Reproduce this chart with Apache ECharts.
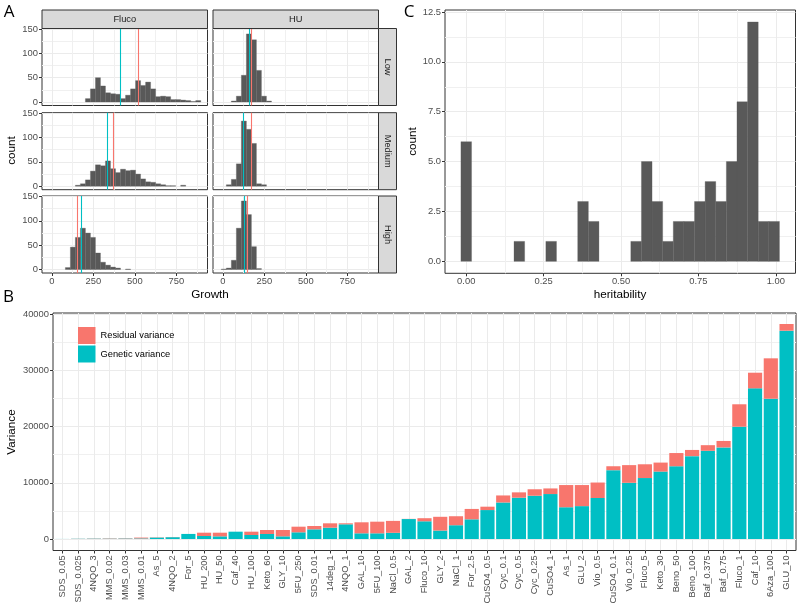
<!DOCTYPE html>
<html><head><meta charset="utf-8">
<script src="https://cdn.jsdelivr.net/npm/echarts@6/dist/echarts.min.js"></script>
<style>html,body{margin:0;padding:0;background:#fff}#c{width:800px;height:607px}</style>
</head><body><div id="c"></div>
<script>
// ---------- Panel A: Growth histograms (30 shared bins) ----------
const growthBinStart = -9.9;
const growthBinWidth = 30.24;
const flucoLow    = [0,0,0,0,0,0,0,7,27,50,33,19,17,16,7,14,27,44,34,41,27,11,12,11,5,5,4,3,1,3];
const flucoMedium = [0,0,0,0,0,2,5,13,31,44,42,52,36,28,35,32,33,25,15,9,8,5,3,1,1,0,2,0,0,0];
const flucoHigh   = [0,0,0,4,46,66,85,75,66,34,15,9,5,3,0,1,0,0,0,0,0,0,0,0,0,0,0,0,0,0];
const huLow       = [0,0,2,12,55,140,128,65,12,2,0,0,0,0,0,0,0,0,0,0,0,0,0,0,0,0,0,0,0,0];
const huMedium    = [0,3,14,46,134,117,88,5,3,0,0,0,0,0,0,0,0,0,0,0,0,0,0,0,0,0,0,0,0,0];
const huHigh      = [1,3,19,85,141,113,47,2,0,0,0,0,0,0,0,0,0,0,0,0,0,0,0,0,0,0,0,0,0,0];
// vertical reference lines [Low, Medium, High]
const flucoRedLine  = [518, 371, 151];
const flucoTealLine = [409, 333, 179];
const huRedLine     = [168, 171, 145];
const huTealLine    = [160, 123, 129];
const growthTicks = [0, 250, 500, 750];
const growthMinor = [125, 375, 625, 875];
const countTicksA = [0, 50, 100, 150];
const countMinorA = [25, 75, 125];
const conditions = ['Low', 'Medium', 'High'];
const drugs = ['Fluco', 'HU'];

// ---------- Panel B: variance components ----------
const bCategories = ['SDS_0.05','SDS_0.025','4NQO_3','MMS_0.02','MMS_0.03','MMS_0.01','As_5','4NQO_2','For_5','HU_200','HU_50','Caf_40','HU_100','Keto_60','GLY_10','5FU_250','SDS_0.01','14deg_1','4NQO_1','GAL_10','5FU_100','NaCl_0.5','GAL_2','Fluco_10','GLY_2','NaCl_1','For_2.5','CuSO4_0.5','Cyc_0.1','Cyc_0.5','Cyc_0.25','CuSO4_1','As_1','GLU_2','Vio_0.5','CuSO4_0.1','Vio_0.25','Fluco_5','Keto_30','Beno_50','Beno_100','Baf_0.375','Baf_0.75','Fluco_1','Caf_10','6Aza_100','GLU_10'];
const geneticVariance = [10,40,60,60,80,100,250,320,900,530,470,1300,710,890,470,1190,1720,2010,2610,1010,1010,1100,3550,3150,1500,2450,3500,5150,6500,7350,7700,8000,5650,5850,7300,12250,10000,10850,12000,12950,14750,15700,16300,19990,26820,24970,37080];
const residualVariance = [5,20,40,60,60,150,50,30,0,590,650,0,590,710,1130,1000,590,780,180,1960,2070,2120,30,550,2450,1600,1850,600,1250,950,1150,1000,3950,3750,2750,700,3150,2450,1600,2350,1100,1000,1150,3990,2780,7190,1190];
const varianceTicks = [0, 10000, 20000, 30000, 40000];
const varianceMinor = [5000, 15000, 25000, 35000];

// ---------- Panel C: heritability histogram ----------
const heritBinWidth = 0.0343;
const heritCounts = [6,0,0,0,0,1,0,0,1,0,0,3,2,0,0,0,1,5,3,1,2,2,3,4,3,5,8,12,2,2];
const heritTicks = [0, 0.25, 0.5, 0.75, 1];
const heritMinor = [0.125, 0.375, 0.625, 0.875];
const heritCountTicks = [0, 2.5, 5, 7.5, 10, 12.5];
const heritCountMinor = [1.25, 3.75, 6.25, 8.75, 11.25];

// ---------- builders ----------
const FONT = "'Liberation Sans', Arial, Helvetica, sans-serif";
const RED = '#F8766D', TEAL = '#00BFC4', BARGREY = '#595959';
const grids = [], xAxes = [], yAxes = [], series = [], graphics = [];

function addGrid(rect) {
  grids.push(Object.assign({show: true, backgroundColor: '#FFFFFF', borderColor: '#333333', borderWidth: 1,
    containLabel: false, outerBoundsMode: 'none'}, rect));
  return grids.length - 1;
}
function addAxes(arr, gi, pos, min, max, major, minor, showLab, fmt, labelExtra, tickLen) {
  arr.push({gridIndex: gi, type: 'value', position: pos, min: min, max: max,
    axisLine: {show: false, onZero: false}, axisTick: {show: false, customValues: minor},
    axisLabel: {show: false, customValues: minor},
    splitLine: {show: minor.length > 0, lineStyle: {color: '#F0F0F0', width: 1}}});
  arr.push({gridIndex: gi, type: 'value', position: pos, min: min, max: max,
    axisLine: {show: false, onZero: false},
    axisTick: {show: showLab, customValues: major, length: tickLen || 3, lineStyle: {color: '#333333', width: 1}},
    axisLabel: Object.assign({show: showLab, customValues: major, formatter: fmt, color: '#4D4D4D',
      fontSize: 9.4, fontFamily: FONT, margin: 4}, labelExtra || {}),
    splitLine: {show: true, lineStyle: {color: '#EBEBEB', width: 1}}});
  return arr.length - 1;
}
function binData(counts, start, w) {
  return counts.map((c, k) => [start + k * w, start + (k + 1) * w, c]).filter(d => d[2] > 0);
}
function rectRender(color) {
  return function (params, api) {
    const p0 = api.coord([api.value(0), api.value(2)]);
    const p1 = api.coord([api.value(1), 0]);
    return {type: 'rect', shape: {x: p0[0], y: p0[1], width: p1[0] - p0[0], height: p1[1] - p0[1]},
      style: {fill: color, stroke: color, lineWidth: 0.3}};
  };
}
// stacked bar piece: part 0 = genetic (bottom), part 1 = residual (top)
function stackRender(part, color) {
  return function (params, api) {
    const i = api.value(0), g = api.value(1), r = api.value(2);
    const lo = part === 0 ? 0 : g, hi = part === 0 ? g : g + r;
    if (!(hi > lo)) return null;
    const w = api.size([1, 0])[0] * 0.9;
    const p0 = api.coord([i, hi]), p1 = api.coord([i, lo]);
    return {type: 'rect', shape: {x: p0[0] - w / 2, y: p0[1], width: w, height: p1[1] - p0[1]},
      style: {fill: color}};
  };
}
function txt(text, x, y, size, extra, rot) {
  graphics.push({type: 'text', x: x, y: y, rotation: rot || 0, z: 20,
    style: Object.assign({text: text, fontSize: size, fontFamily: FONT, fill: '#000000',
      align: 'center', verticalAlign: 'middle'}, extra || {})});
}
function box(x, y, w, h) {
  graphics.push({type: 'rect', z: 15, shape: {x: x, y: y, width: w, height: h},
    style: {fill: '#D9D9D9', stroke: '#333333', lineWidth: 1}});
}

// ---------- Panel A ----------
const colLeft = [42, 213], colWidth = 165.5;
const rowTop = [28.5, 112.7, 196], rowHeight = 77;
const aCounts = [[flucoLow, huLow], [flucoMedium, huMedium], [flucoHigh, huHigh]];
const aRed = [flucoRedLine, huRedLine], aTeal = [flucoTealLine, huTealLine];
for (let r = 0; r < 3; r++) {
  for (let c = 0; c < 2; c++) {
    const gi = addGrid({left: colLeft[c], top: rowTop[r], width: colWidth, height: rowHeight});
    const xi = addAxes(xAxes, gi, 'bottom', -60, 938, growthTicks, growthMinor, r === 2, v => String(v));
    const yi = addAxes(yAxes, gi, 'left', -7.2, 151.2, countTicksA, countMinorA, c === 0, v => String(v));
    series.push({type: 'custom', xAxisIndex: xi, yAxisIndex: yi, renderItem: rectRender(BARGREY),
      encode: {x: [0, 1], y: 2}, data: binData(aCounts[r][c], growthBinStart, growthBinWidth),
      markLine: {silent: true, symbol: ['none', 'none'], label: {show: false}, animation: false,
        data: [{xAxis: aRed[c][r], lineStyle: {color: RED, width: 1.1, type: 'solid'}},
               {xAxis: aTeal[c][r], lineStyle: {color: TEAL, width: 1.1, type: 'solid'}}]}});
  }
}
for (let c = 0; c < 2; c++) {
  box(colLeft[c], 10, colWidth, 18.5);
  txt(drugs[c], colLeft[c] + colWidth / 2, 19.5, 9.3, {fill: '#1A1A1A'});
}
for (let r = 0; r < 3; r++) {
  box(213 + colWidth, rowTop[r], 18, rowHeight);
  txt(conditions[r], 213 + colWidth + 9, rowTop[r] + rowHeight / 2, 9.3, {fill: '#1A1A1A'}, -Math.PI / 2);
}
txt('Growth', 210, 295, 11.7);
txt('count', 12, 150.5, 11.7, null, Math.PI / 2);

// ---------- Panel C ----------
{
  const gi = addGrid({left: 445, top: 10, width: 350.5, height: 263.3});
  const xi = addAxes(xAxes, gi, 'bottom', -0.0686, 1.0637, heritTicks, heritMinor, true, v => v.toFixed(2));
  const yi = addAxes(yAxes, gi, 'left', -0.6, 12.6, heritCountTicks, heritCountMinor, true, v => v.toFixed(1));
  series.push({type: 'custom', xAxisIndex: xi, yAxisIndex: yi, renderItem: rectRender(BARGREY),
    encode: {x: [0, 1], y: 2}, data: binData(heritCounts, -heritBinWidth / 2, heritBinWidth)});
  txt('heritability', 620, 295, 11.7);
  txt('count', 413, 141.5, 11.7, null, Math.PI / 2);
}

// ---------- Panel B ----------
{
  const gi = addGrid({left: 53, top: 313, width: 743, height: 237.5});
  const idx = bCategories.map((_, i) => i);
  const xi = addAxes(xAxes, gi, 'bottom', -0.6, bCategories.length - 0.4, idx, [], true,
    v => bCategories[Math.round(v)], {rotate: 90, fontSize: 9.2, margin: 5});
  const yi = addAxes(yAxes, gi, 'left', -2050, 40230, varianceTicks, varianceMinor, true, v => String(v));
  const bData = bCategories.map((_, i) => [i, geneticVariance[i], residualVariance[i]]);
  series.push({type: 'custom', name: 'Genetic variance', xAxisIndex: xi, yAxisIndex: yi,
    renderItem: stackRender(0, TEAL), itemStyle: {color: TEAL}, encode: {x: 0, y: 1}, data: bData});
  series.push({type: 'custom', name: 'Residual variance', xAxisIndex: xi, yAxisIndex: yi,
    renderItem: stackRender(1, RED), itemStyle: {color: RED}, encode: {x: 0, y: 1}, data: bData});
  txt('Variance', 12, 432, 11.7, null, Math.PI / 2);
}

// panel letters
txt('A', 9, 12, 17, {fontFamily: "'Open Sans', 'Noto Sans', sans-serif"});
txt('B', 8.5, 297.5, 17, {fontFamily: "'Open Sans', 'Noto Sans', sans-serif"});
txt('C', 409, 11.7, 17, {fontFamily: "'Open Sans', 'Noto Sans', sans-serif"});

const chart = echarts.init(document.getElementById('c'), null, {renderer: 'canvas'});
chart.setOption({
  animation: false,
  backgroundColor: '#FFFFFF',
  textStyle: {fontFamily: FONT},
  grid: grids, xAxis: xAxes, yAxis: yAxes, series: series, graphic: graphics,
  legend: {data: ['Residual variance', 'Genetic variance'], orient: 'vertical', left: 78, top: 327,
    padding: 0, itemWidth: 17.5, itemHeight: 17, itemGap: 1.5, icon: 'rect', selectedMode: false,
    textStyle: {fontSize: 9.3, color: '#000000', fontFamily: FONT}}
});
</script></body></html>
